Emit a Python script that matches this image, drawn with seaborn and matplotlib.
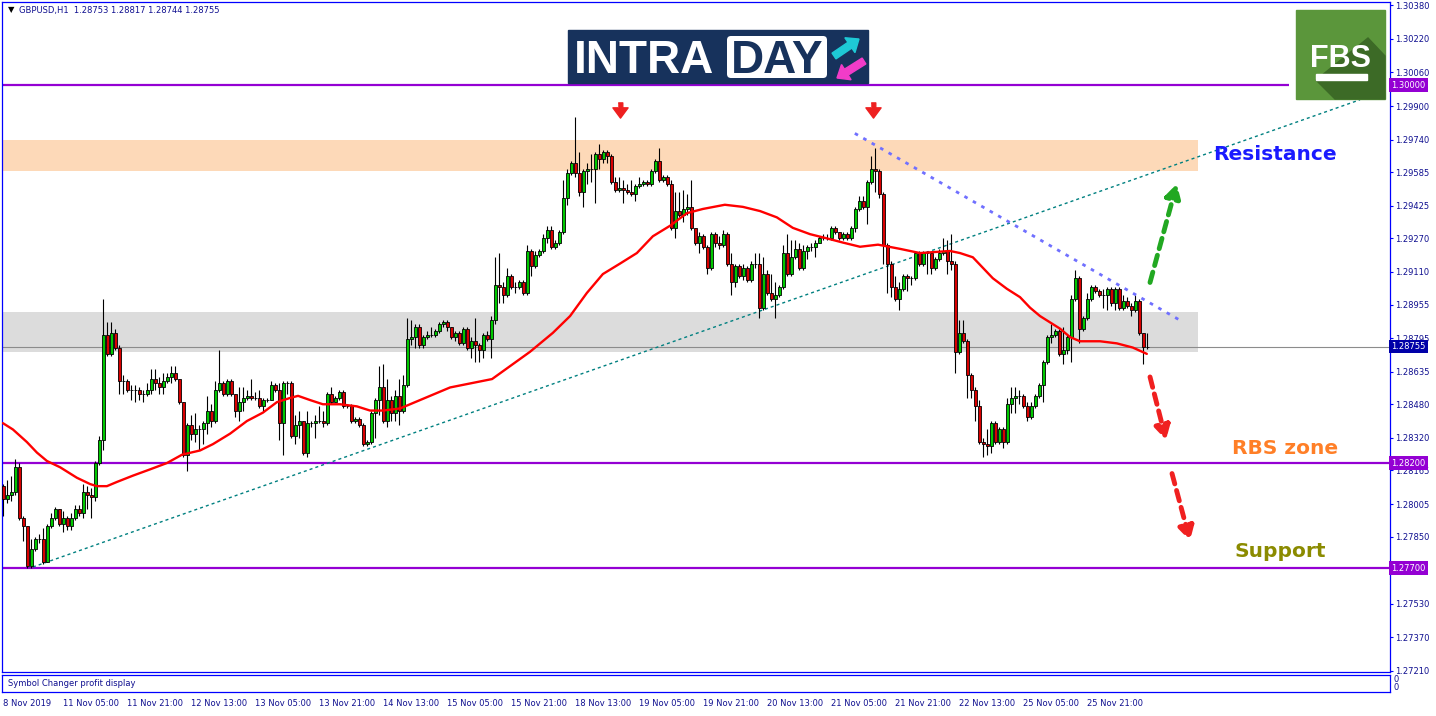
import matplotlib
matplotlib.use("Agg")
import matplotlib.pyplot as plt
import matplotlib.transforms as mtransforms
from matplotlib.patches import Rectangle, FancyBboxPatch, Polygon, FancyArrow
import pandas as pd
import seaborn as sns

sns.set_style("white")
plt.rcParams['font.family'] = ['DejaVu Sans']

# ---- GBPUSD H1 candles (bar index 0 = 8 Nov 2019) ----
first_open = 1.2809
closes = [
    1.2803, 1.2805, 1.2806, 1.2818, 1.2794, 1.2790, 1.2771, 1.2779, 1.2784, 1.2784,
    1.2773, 1.2790, 1.2794, 1.2798, 1.2791, 1.2794, 1.2790, 1.2794, 1.2798, 1.2796,
    1.2806, 1.2805, 1.2804, 1.2820, 1.2831, 1.2881, 1.2872, 1.2882, 1.2875, 1.2859,
    1.2859, 1.2855, 1.2855, 1.2855, 1.2853, 1.2853, 1.2855, 1.2860, 1.2858, 1.2856,
    1.2859, 1.2861, 1.2863, 1.2860, 1.2849, 1.2824, 1.2838, 1.2834, 1.2836, 1.2836,
    1.2839, 1.2845, 1.2840, 1.2855, 1.2858, 1.2853, 1.2859, 1.2853, 1.2845, 1.2849,
    1.2851, 1.2852, 1.2851, 1.2851, 1.2847, 1.2850, 1.2850, 1.2857, 1.2855, 1.2839,
    1.2858, 1.2858, 1.2833, 1.2838, 1.2840, 1.2825, 1.2839, 1.2839, 1.2840, 1.2840,
    1.2839, 1.2853, 1.2849, 1.2851, 1.2854, 1.2847, 1.2847, 1.2840, 1.2841, 1.2838,
    1.2829, 1.2830, 1.2844, 1.2850, 1.2856, 1.2840, 1.2850, 1.2844, 1.2852, 1.2845,
    1.2857, 1.2879, 1.2880, 1.2885, 1.2876, 1.2880, 1.2881, 1.2881, 1.2883, 1.2886,
    1.2887, 1.2885, 1.2880, 1.2882, 1.2877, 1.2884, 1.2875, 1.2878, 1.2876, 1.2874,
    1.2881, 1.2879, 1.2888, 1.2905, 1.2904, 1.2900, 1.2909, 1.2904, 1.2904, 1.2906,
    1.2901, 1.2921, 1.2914, 1.2919, 1.2921, 1.2927, 1.2931, 1.2923, 1.2925, 1.2930,
    1.2946, 1.2958, 1.2963, 1.2958, 1.2949, 1.2959, 1.2960, 1.2960, 1.2967, 1.2965,
    1.2968, 1.2966, 1.2954, 1.2950, 1.2951, 1.2950, 1.2949, 1.2948, 1.2952, 1.2953,
    1.2954, 1.2953, 1.2959, 1.2964, 1.2955, 1.2956, 1.2953, 1.2932, 1.2940, 1.2938,
    1.2941, 1.2942, 1.2932, 1.2925, 1.2928, 1.2923, 1.2913, 1.2929, 1.2925, 1.2924,
    1.2929, 1.2915, 1.2906, 1.2914, 1.2909, 1.2913, 1.2907, 1.2915, 1.2915, 1.2894,
    1.2910, 1.2901, 1.2898, 1.2900, 1.2904, 1.2920, 1.2910, 1.2918, 1.2922, 1.2913,
    1.2921, 1.2923, 1.2923, 1.2925, 1.2927, 1.2927, 1.2927, 1.2932, 1.2930, 1.2927,
    1.2929, 1.2927, 1.2932, 1.2941, 1.2945, 1.2942, 1.2954, 1.2960, 1.2959, 1.2948,
    1.2924, 1.2915, 1.2904, 1.2898, 1.2903, 1.2909, 1.2908, 1.2908, 1.2920, 1.2915,
    1.2920, 1.2920, 1.2913, 1.2917, 1.2920, 1.2921, 1.2916, 1.2915, 1.2873, 1.2882,
    1.2878, 1.2862, 1.2855, 1.2847, 1.2830, 1.2829, 1.2828, 1.2839, 1.2830, 1.2836,
    1.2830, 1.2848, 1.2851, 1.2852, 1.2852, 1.2847, 1.2842, 1.2847, 1.2852, 1.2857,
    1.2868, 1.2880, 1.2881, 1.2883, 1.2872, 1.2874, 1.2880, 1.2898, 1.2908, 1.2884,
    1.2889, 1.2898, 1.2904, 1.2902, 1.2900, 1.2900, 1.2903, 1.2896, 1.2903, 1.2894,
    1.2897, 1.2895, 1.2893, 1.2897, 1.2882, 1.28753, 1.28755]
highs = [
    1.2810, 1.2812, 1.2814, 1.2822, 1.2820, 1.2795, 1.2790, 1.2784, 1.2785, 1.2786,
    1.2789, 1.2791, 1.2796, 1.2799, 1.2798, 1.2797, 1.2795, 1.2796, 1.2800, 1.2800,
    1.2810, 1.2809, 1.2808, 1.2821, 1.2833, 1.2898, 1.2887, 1.2887, 1.2884, 1.2876,
    1.2862, 1.2860, 1.2857, 1.2857, 1.2856, 1.2855, 1.2858, 1.2865, 1.2865, 1.2861,
    1.2863, 1.2863, 1.2866, 1.2866, 1.2860, 1.2849, 1.2839, 1.2843, 1.2844, 1.2838,
    1.2840, 1.2852, 1.2848, 1.2859, 1.2874, 1.2859, 1.2860, 1.2860, 1.2853, 1.2856,
    1.2856, 1.2855, 1.2860, 1.2854, 1.2855, 1.2851, 1.2851, 1.2859, 1.2858, 1.2858,
    1.2859, 1.2859, 1.2859, 1.2843, 1.2845, 1.2840, 1.2845, 1.2840, 1.2843, 1.2847,
    1.2845, 1.2854, 1.2856, 1.2852, 1.2855, 1.2855, 1.2848, 1.2848, 1.2842, 1.2842,
    1.2839, 1.2831, 1.2845, 1.2851, 1.2866, 1.2867, 1.2860, 1.2852, 1.2855, 1.2860,
    1.2862, 1.2889, 1.2888, 1.2886, 1.2886, 1.2881, 1.2883, 1.2885, 1.2884, 1.2887,
    1.2888, 1.2888, 1.2885, 1.2883, 1.2883, 1.2885, 1.2885, 1.2880, 1.2889, 1.2877,
    1.2882, 1.2883, 1.2890, 1.2918, 1.2920, 1.2906, 1.2913, 1.2910, 1.2906, 1.2907,
    1.2907, 1.2924, 1.2922, 1.2921, 1.2922, 1.2929, 1.2933, 1.2933, 1.2926, 1.2931,
    1.2955, 1.2960, 1.2964, 1.2985, 1.2968, 1.2960, 1.2963, 1.2967, 1.2968, 1.2972,
    1.2969, 1.2969, 1.2967, 1.2956, 1.2956, 1.2955, 1.2953, 1.2955, 1.2953, 1.2956,
    1.2955, 1.2955, 1.2960, 1.2965, 1.2970, 1.2957, 1.2957, 1.2955, 1.2949, 1.2949,
    1.2950, 1.2948, 1.2955, 1.2932, 1.2930, 1.2929, 1.2924, 1.2930, 1.2930, 1.2928,
    1.2931, 1.2930, 1.2920, 1.2915, 1.2915, 1.2915, 1.2914, 1.2916, 1.2920, 1.2920,
    1.2918, 1.2912, 1.2910, 1.2906, 1.2905, 1.2924, 1.2929, 1.2926, 1.2926, 1.2925,
    1.2924, 1.2924, 1.2925, 1.2926, 1.2928, 1.2929, 1.2929, 1.2933, 1.2933, 1.2930,
    1.2930, 1.2930, 1.2933, 1.2942, 1.2947, 1.2947, 1.2955, 1.2966, 1.2970, 1.2960,
    1.2949, 1.2925, 1.2916, 1.2909, 1.2906, 1.2910, 1.2910, 1.2909, 1.2921, 1.2921,
    1.2921, 1.2921, 1.2921, 1.2918, 1.2922, 1.2927, 1.2926, 1.2929, 1.2916, 1.2888,
    1.2888, 1.2879, 1.2863, 1.2856, 1.2850, 1.2832, 1.2836, 1.2840, 1.2840, 1.2837,
    1.2837, 1.2851, 1.2856, 1.2856, 1.2855, 1.2853, 1.2849, 1.2849, 1.2853, 1.2858,
    1.2869, 1.2881, 1.2886, 1.2884, 1.2884, 1.2885, 1.2881, 1.2900, 1.2912, 1.2909,
    1.2890, 1.2901, 1.2905, 1.2905, 1.2903, 1.2903, 1.2904, 1.2904, 1.2904, 1.2904,
    1.2900, 1.2899, 1.2896, 1.2900, 1.2898, 1.2882, 1.28817]
lows = [
    1.2795, 1.2801, 1.2802, 1.2805, 1.2793, 1.2783, 1.2770, 1.2770, 1.2778, 1.2782,
    1.2772, 1.2773, 1.2789, 1.2793, 1.2790, 1.2787, 1.2788, 1.2788, 1.2793, 1.2795,
    1.2794, 1.2798, 1.2794, 1.2802, 1.2819, 1.2826, 1.2871, 1.2871, 1.2874, 1.2853,
    1.2853, 1.2854, 1.2850, 1.2849, 1.2850, 1.2849, 1.2852, 1.2853, 1.2855, 1.2853,
    1.2853, 1.2858, 1.2858, 1.2859, 1.2848, 1.2823, 1.2816, 1.2831, 1.2830, 1.2826,
    1.2829, 1.2834, 1.2837, 1.2839, 1.2854, 1.2852, 1.2852, 1.2852, 1.2842, 1.2840,
    1.2845, 1.2850, 1.2850, 1.2850, 1.2846, 1.2845, 1.2849, 1.2850, 1.2854, 1.2831,
    1.2824, 1.2853, 1.2832, 1.2829, 1.2832, 1.2824, 1.2823, 1.2837, 1.2832, 1.2839,
    1.2837, 1.2838, 1.2848, 1.2849, 1.2850, 1.2846, 1.2846, 1.2839, 1.2839, 1.2837,
    1.2828, 1.2828, 1.2829, 1.2832, 1.2843, 1.2839, 1.2837, 1.2840, 1.2840, 1.2838,
    1.2844, 1.2856, 1.2876, 1.2875, 1.2875, 1.2875, 1.2879, 1.2880, 1.2880, 1.2882,
    1.2885, 1.2883, 1.2879, 1.2878, 1.2876, 1.2876, 1.2874, 1.2870, 1.2868, 1.2868,
    1.2870, 1.2878, 1.2870, 1.2886, 1.2896, 1.2896, 1.2899, 1.2903, 1.2901, 1.2903,
    1.2900, 1.2900, 1.2909, 1.2913, 1.2918, 1.2920, 1.2925, 1.2922, 1.2922, 1.2924,
    1.2929, 1.2943, 1.2957, 1.2956, 1.2947, 1.2942, 1.2953, 1.2954, 1.2944, 1.2960,
    1.2963, 1.2963, 1.2953, 1.2949, 1.2949, 1.2944, 1.2948, 1.2947, 1.2945, 1.2951,
    1.2952, 1.2952, 1.2952, 1.2958, 1.2954, 1.2954, 1.2952, 1.2931, 1.2927, 1.2937,
    1.2935, 1.2938, 1.2931, 1.2924, 1.2920, 1.2922, 1.2910, 1.2912, 1.2923, 1.2922,
    1.2923, 1.2914, 1.2900, 1.2904, 1.2908, 1.2907, 1.2906, 1.2906, 1.2913, 1.2889,
    1.2893, 1.2900, 1.2897, 1.2889, 1.2899, 1.2903, 1.2909, 1.2909, 1.2917, 1.2912,
    1.2912, 1.2917, 1.2921, 1.2918, 1.2925, 1.2926, 1.2926, 1.2926, 1.2929, 1.2926,
    1.2926, 1.2926, 1.2926, 1.2930, 1.2940, 1.2941, 1.2934, 1.2953, 1.2949, 1.2946,
    1.2915, 1.2901, 1.2899, 1.2897, 1.2893, 1.2902, 1.2902, 1.2905, 1.2907, 1.2914,
    1.2914, 1.2910, 1.2910, 1.2912, 1.2916, 1.2919, 1.2910, 1.2912, 1.2863, 1.2872,
    1.2877, 1.2851, 1.2851, 1.2840, 1.2829, 1.2823, 1.2824, 1.2825, 1.2829, 1.2829,
    1.2827, 1.2829, 1.2844, 1.2844, 1.2848, 1.2846, 1.2840, 1.2841, 1.2846, 1.2851,
    1.2849, 1.2867, 1.2877, 1.2880, 1.2871, 1.2867, 1.2872, 1.2868, 1.2897, 1.2877,
    1.2883, 1.2888, 1.2897, 1.2901, 1.2899, 1.2894, 1.2893, 1.2895, 1.2893, 1.2893,
    1.2893, 1.2894, 1.2890, 1.2892, 1.2881, 1.2867, 1.28744]

# moving average (red line)
ma_bar = [-0.1, 2.4, 5.9, 8.4, 10.9, 14.2, 18.4, 21.7, 23.4, 25.9, 28.4, 32.4, 36.7,
          40.9, 44.7, 49.2, 52.4, 56.7, 60.9, 64.9, 68.4, 71.7, 73.7, 76.7, 79.9, 84.2,
          88.4, 91.7, 94.9, 99.2, 104.2, 111.7, 122.2, 131.7, 137.4, 141.7, 145.9, 149.9,
          154.2, 158.4, 162.4, 166.7, 170.9, 174.9, 180.4, 184.9, 189.2, 193.4, 197.4,
          201.7, 205.9, 209.9, 214.2, 218.7, 224.2, 229.2, 236.7, 239.2, 242.4, 244.9,
          247.4, 250.9, 254.2, 256.7, 259.2, 261.7, 264.2, 266.7, 269.2, 274.2, 278.4,
          282.4, 285.9]
ma_value = [1.2839, 1.2836, 1.2830, 1.2825, 1.2821, 1.2818, 1.2813, 1.2810, 1.2809, 1.2809,
            1.2811, 1.2814, 1.2817, 1.2820, 1.2824, 1.2826, 1.2829, 1.2834, 1.2840, 1.2844,
            1.2849, 1.2851, 1.2852, 1.2850, 1.2848, 1.2848, 1.2847, 1.2845, 1.2845, 1.2846,
            1.2850, 1.2856, 1.2860, 1.2873, 1.2882, 1.2890, 1.2901, 1.2910, 1.2915, 1.2920,
            1.2928, 1.2933, 1.2939, 1.2941, 1.2943, 1.2942, 1.2940, 1.2937, 1.2932, 1.2929,
            1.2927, 1.2925, 1.2923, 1.2924, 1.2922, 1.2920, 1.2921, 1.2920, 1.2918, 1.2913,
            1.2908, 1.2903, 1.2899, 1.2894, 1.2890, 1.2887, 1.2884, 1.2880, 1.2878, 1.2878,
            1.2877, 1.2875, 1.2872]

# levels, zones, drawn lines
levels = [1.30000, 1.28200, 1.27700]
level_labels = ['1.30000', '1.28200', '1.27700']
last_price = 1.28755
resistance_zone = (1.2959, 1.2974)
rbs_zone = (1.2873, 1.2892)
zone_end_bar = 298.7
trend_bars = [7.4, 339.2]
trend_prices = [1.27705, 1.2993]
fall_bars = [212.9, 294.2]
fall_prices = [1.2977, 1.2888]
peak_bars = [154.2, 217.4]
peak_prices = [1.2988, 1.2988]
up_arrow = [(286.7, 1.2906), (293.4, 1.2953)]
down_arrows = [[(286.7, 1.2861), (290.7, 1.2831)], [(292.2, 1.2815), (296.7, 1.2783)]]

price_ticks = [1.30380, 1.30220, 1.30060, 1.29900, 1.29740, 1.29585, 1.29425, 1.29270,
               1.29110, 1.28955, 1.28795, 1.28635, 1.28480, 1.28320, 1.28165, 1.28005,
               1.27850, 1.27690, 1.27530, 1.27370, 1.27210]
# the 1.27690 label sits under the 1.27700 level box on the chart
hidden_ticks = [1.27690]
date_bars = [0, 15, 31, 47, 63, 79, 95, 111, 127, 143, 159, 175, 191, 207, 223, 239, 255, 271]
date_labels = ['8 Nov 2019', '11 Nov 05:00', '11 Nov 21:00', '12 Nov 13:00', '13 Nov 05:00',
               '13 Nov 21:00', '14 Nov 13:00', '15 Nov 05:00', '15 Nov 21:00', '18 Nov 13:00',
               '19 Nov 05:00', '19 Nov 21:00', '20 Nov 13:00', '21 Nov 05:00', '21 Nov 21:00',
               '22 Nov 13:00', '25 Nov 05:00', '25 Nov 21:00']

df = pd.DataFrame({'open': [first_open] + closes[:-1], 'high': highs,
                   'low': lows, 'close': closes})
df['bar'] = range(len(df))

navy = '#101090'
blue = '#0000ff'
purple = '#9400d3'

fig = plt.figure(figsize=(14.36, 7.16), dpi=100)
fig.patch.set_facecolor('white')

ax_l, ax_w = 2.3 / 1436, (1390 - 2.3) / 1436
ax = fig.add_axes([ax_l, 1 - 672 / 716, ax_w, (672 - 1.7) / 716])
xlim = (-0.25, 346.7)
ax.set_xlim(*xlim)
ax.set_ylim(1.27205, 1.30397)

# zones
ax.fill_between([xlim[0], zone_end_bar], *resistance_zone, color='#fdd9b8', lw=0, zorder=0.5)
ax.fill_between([xlim[0], zone_end_bar], *rbs_zone, color='#dcdcdc', lw=0, zorder=0.5)

# horizontal levels
ax.hlines(levels[0], xlim[0], 321.5, color=purple, lw=1.6, zorder=1)
for lv in levels[1:]:
    ax.axhline(lv, color=purple, lw=1.6, zorder=1)
ax.axhline(last_price, color='#8c8c8c', lw=0.8, zorder=1)

# trend lines
ax.plot(trend_bars, trend_prices, color='#008080', lw=1, ls=(0, (2.2, 2.2)), zorder=2)
ax.plot(fall_bars, fall_prices, color='#7070ff', lw=2, ls=(0, (1.3, 2.2)), zorder=6)

# candles
up = df[df['close'] >= df['open']]
dn = df[df['close'] < df['open']]
ax.vlines(df['bar'], df['low'], df['high'], color='black', lw=0.8, zorder=3)
ax.bar(up['bar'], up['close'] - up['open'], bottom=up['open'], width=0.72,
       color='#00c800', edgecolor='black', linewidth=0.6, zorder=4)
ax.bar(dn['bar'], dn['open'] - dn['close'], bottom=dn['close'], width=0.72,
       color='#d80000', edgecolor='black', linewidth=0.6, zorder=4)

# moving average
sns.lineplot(x=ma_bar, y=ma_value, color='#ff0000', lw=1.7, ax=ax, zorder=5)

# peak markers
arrow_marker = [(-0.3, 1), (0.3, 1), (0.3, 0.35), (1, 0.35), (0, -1), (-1, 0.35), (-0.3, 0.35)]
ax.scatter(peak_bars, peak_prices, marker=arrow_marker, s=120, color='#ee2020', zorder=6)

# forecast arrows
ax.annotate('', xy=up_arrow[1], xytext=up_arrow[0], annotation_clip=False,
            arrowprops=dict(arrowstyle='-|>,head_length=0.8,head_width=0.45', color='#22a822',
                            lw=3.5, ls=(0, (2.2, 1.4)), shrinkA=0, shrinkB=0), zorder=7)
for seg in down_arrows:
    ax.annotate('', xy=seg[1], xytext=seg[0], annotation_clip=False,
                arrowprops=dict(arrowstyle='-|>,head_length=0.8,head_width=0.45', color='#f02020',
                                lw=3.5, ls=(0, (2.2, 1.4)), shrinkA=0, shrinkB=0), zorder=7)

# zone labels
ax.text(302.4, 1.2967, 'Resistance', color='#1a1aff', fontsize=14.5, fontweight='bold', va='center', ha='left')
ax.text(307.2, 1.2827, 'RBS zone', color='#ff7f27', fontsize=14.5, fontweight='bold', va='center', ha='left')
ax.text(307.9, 1.2778, 'Support', color='#8b8b00', fontsize=14.5, fontweight='bold', va='center', ha='left')

# axes styling: right price scale
ax.set_xticks([])
ax.yaxis.tick_right()
ax.set_yticks(price_ticks)
ax.set_yticklabels(['' if v in hidden_ticks else f'{v:.5f}' for v in price_ticks])
ax.tick_params(axis='y', length=2.5, width=0.8, color=blue, labelcolor=navy, labelsize=6, pad=1.5)
for sp in ax.spines.values():
    sp.set_color(blue)
    sp.set_linewidth(0.9)
ax.set_ylabel('')

blend = mtransforms.blended_transform_factory(ax.transAxes, ax.transData)
for lv, lab in zip(levels, level_labels):
    ax.text(1.0011, lv, lab, transform=blend, fontsize=6, color='white', va='center', ha='left',
            clip_on=False, zorder=10,
            bbox=dict(boxstyle='square,pad=0.25', fc=purple, ec='none'))
ax.text(1.0011, last_price, f'{last_price:.5f}', transform=blend, fontsize=6, color='white',
        va='center', ha='left', clip_on=False, zorder=10,
        bbox=dict(boxstyle='square,pad=0.25', fc='#0000a8', ec='none'))

# bottom panel with the time scale
pax = fig.add_axes([ax_l, 1 - 692 / 716, ax_w, 17.5 / 716])
pax.set_xlim(*xlim)
pax.set_ylim(0, 1)
pax.set_yticks([])
pax.set_xticks(date_bars)
pax.set_xticklabels(date_labels)
for lbl in pax.get_xticklabels():
    lbl.set_horizontalalignment('left')
pax.tick_params(axis='x', length=3.5, width=0.8, color=blue, labelcolor=navy, labelsize=6, pad=1.5)
for sp in pax.spines.values():
    sp.set_color(blue)
    sp.set_linewidth(0.9)
pax.text(0.004, 0.5, 'Symbol Changer profit display', transform=pax.transAxes,
         fontsize=6, color=navy, va='center', ha='left')

# overlay in pixel coordinates for header and logos
ov = fig.add_axes([0, 0, 1, 1], zorder=20)
ov.set_xlim(0, 1436)
ov.set_ylim(716, 0)
ov.axis('off')

ov.text(8, 10, '\u25bc', fontsize=6, color='black', va='center', ha='left')
ov.text(19, 10, 'GBPUSD,H1  1.28753 1.28817 1.28744 1.28755', fontsize=6, color=navy,
        va='center', ha='left')
ov.text(1393, 680, '0', fontsize=6, color=navy, va='center', ha='left')
ov.text(1393, 688, '0', fontsize=6, color=navy, va='center', ha='left')

# INTRADAY logo
ov.add_patch(Rectangle((568, 30), 300, 53, color='#17325c', zorder=1))
ov.text(574, 73, 'INTRA', color='white', fontsize=33, fontweight='bold',
        family='Liberation Sans', va='baseline', ha='left', zorder=2)
ov.add_patch(FancyBboxPatch((727, 36), 100, 42, boxstyle='round,pad=0,rounding_size=4',
                            fc='white', ec='none', zorder=2))
ov.text(777, 73, 'DAY', color='#17325c', fontsize=33, fontweight='bold',
        family='Liberation Sans', va='baseline', ha='center', zorder=3)
ov.add_patch(FancyArrow(834, 56, 25, -17, width=7, head_width=18, head_length=11,
                        length_includes_head=True, color='#1ec9d6', zorder=3))
ov.add_patch(FancyArrow(864, 61, -27, 17, width=7, head_width=18, head_length=11,
                        length_includes_head=True, color='#f23cc8', zorder=3))

# FBS logo
ov.add_patch(Rectangle((1296, 10), 89, 89, color='#5b963b', zorder=1))
ov.add_patch(Polygon([(1316, 80), (1368, 38), (1385, 56), (1385, 99), (1335, 99)],
                     closed=True, color='#3c6a26', zorder=2))
ov.text(1341, 67, 'FBS', color='white', fontsize=22, fontweight='bold',
        family='Liberation Sans', va='baseline', ha='center', zorder=3)
ov.add_patch(Rectangle((1316, 74), 51, 6, color='white', zorder=3))

fig.savefig('out.png', dpi=100)
